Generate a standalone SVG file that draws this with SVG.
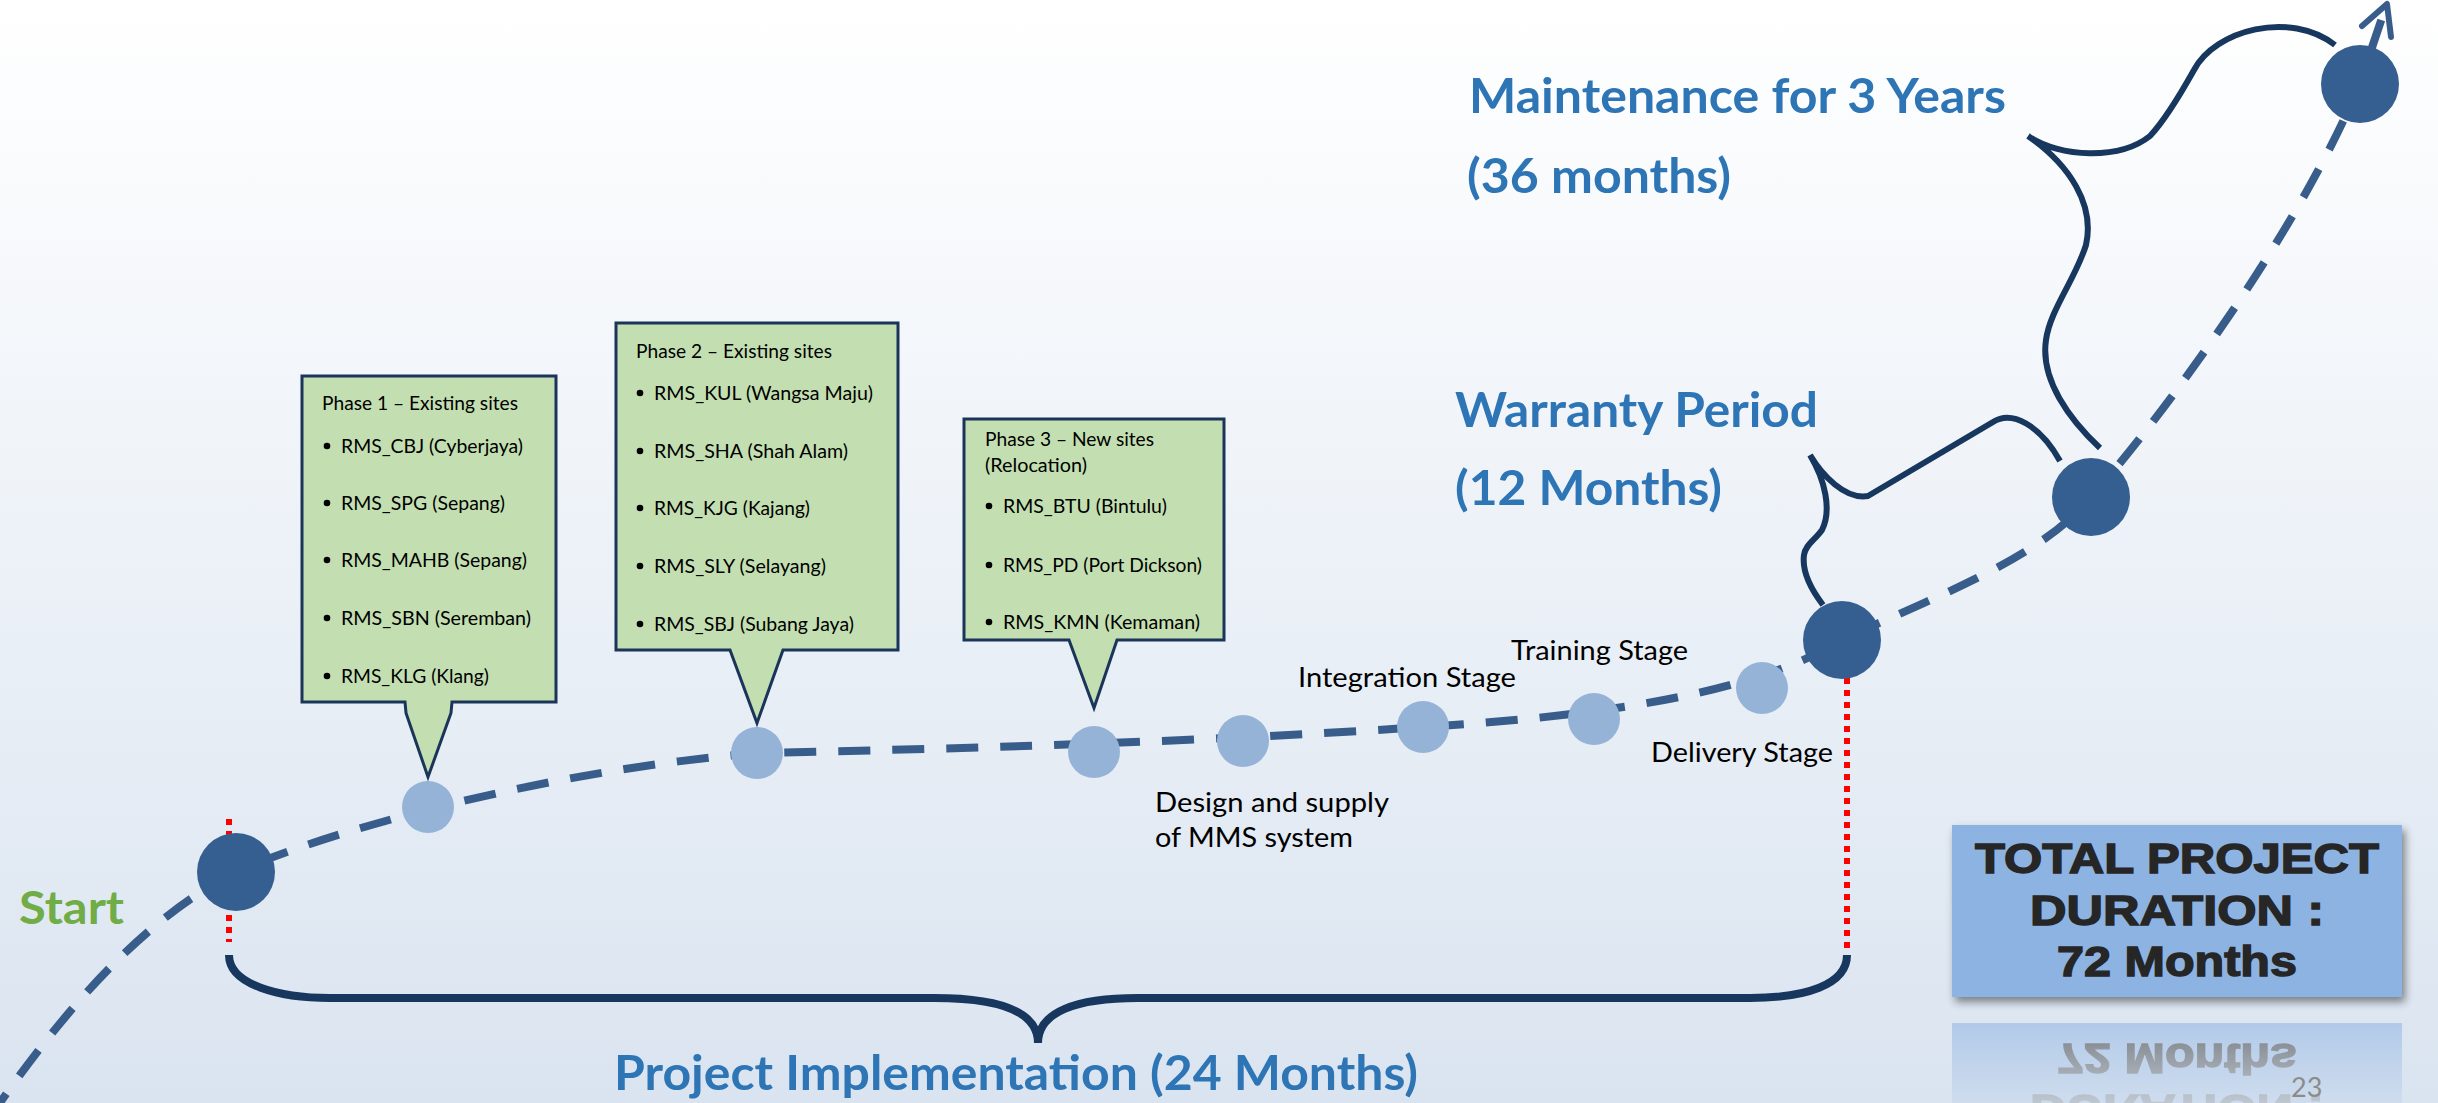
<svg xmlns="http://www.w3.org/2000/svg" width="2438" height="1103" viewBox="0 0 2438 1103">
<defs>
<linearGradient id="bg" x1="0" y1="0" x2="0" y2="1">
<stop offset="0" stop-color="#ffffff"/>
<stop offset="1" stop-color="#dae4f0"/>
</linearGradient>
<linearGradient id="fade" gradientUnits="userSpaceOnUse" x1="0" y1="1012" x2="0" y2="1103">
<stop offset="0" stop-color="#fff" stop-opacity="0.6"/>
<stop offset="1" stop-color="#fff" stop-opacity="0.15"/>
</linearGradient>
<mask id="reflMask" maskUnits="userSpaceOnUse" x="0" y="0" width="2438" height="1103">
<rect x="0" y="1012" width="2438" height="91" fill="url(#fade)"/>
</mask>
<filter id="shadow" x="-10%" y="-10%" width="125%" height="140%">
<feDropShadow dx="3" dy="5" stdDeviation="4" flood-color="#000" flood-opacity="0.45"/>
</filter>
<style>
.lbl{font-family:Lato,"Open Sans","Liberation Sans",sans-serif;fill:#000;font-size:27px}
.ph{font-family:Lato,"Open Sans","Liberation Sans",sans-serif;fill:#000;font-size:19.5px}
.ttl{font-family:Lato,"Open Sans","Liberation Sans",sans-serif;font-weight:700;fill:#2e75b6;font-size:47px}
.start{fill:#70ad47;font-size:45px}
.tot{font-family:"Liberation Sans",Arial,sans-serif;font-weight:700;fill:#262626;stroke:#262626;stroke-width:1.4;font-size:43px}
.big{fill:#365f91}
.small{fill:#95b3d7}
.callout{fill:#c3dfb1;stroke:#1b355a;stroke-width:3;stroke-linejoin:miter}
.dash{fill:none;stroke:#385d8a;stroke-width:8;stroke-dasharray:32 22}
.red{fill:none;stroke:#ff0000;stroke-width:6;stroke-dasharray:6 6}
.brace{fill:none;stroke:#17375e;stroke-linecap:butt}
.bul{fill:#000}
</style>
</defs>
<rect x="0" y="0" width="2438" height="1103" fill="url(#bg)"/>

<g id="connectors">
<path class="dash" d="M -12 1120 C 70 1000, 150 915, 236 872 C 330 830, 550 770, 757 753 C 950 749, 1200 742, 1423 727 C 1620 715, 1760 690, 1842 640 C 1930 598, 2040 560, 2091 497 C 2160 420, 2300 230, 2360 83 L 2386 6"/>
<path d="M 2362 26 L 2387 4 L 2391 37" fill="none" stroke="#385d8a" stroke-width="6" stroke-linecap="round" stroke-linejoin="round"/>
<line class="red" x1="229" y1="819" x2="229" y2="942"/>
<line class="red" x1="1847" y1="678" x2="1847" y2="952"/>
<path class="brace" stroke-width="8" d="M 229 955 C 229 985, 280 998, 330 998 L 934 998 C 1000 998, 1038 1012, 1038 1043 C 1038 1012, 1076 998, 1138 998 L 1750 998 C 1805 998, 1847 985, 1847 955"/>
<path class="brace" stroke-width="6" d="M 1823 605 C 1810 588, 1802 570, 1804 555 C 1805 545, 1815 540, 1822 530 C 1832 510, 1825 480, 1810 455 C 1822 475, 1845 500, 1868 496 L 1993 422 C 2012 410, 2040 425, 2060 461"/>
<path class="brace" stroke-width="6" d="M 2100 448 C 2070 420, 2040 380, 2046 340 C 2050 310, 2075 280, 2086 245 C 2095 205, 2070 165, 2028 136 C 2060 158, 2120 160, 2150 136 C 2165 120, 2180 95, 2194 70 C 2215 30, 2290 10, 2335 45"/>
</g>

<g id="node-start"><circle class="big" cx="236" cy="872" r="39"/></g>
<g id="node-phase1-point"><circle class="small" cx="428" cy="807" r="26"/></g>
<g id="node-phase2-point"><circle class="small" cx="757" cy="753" r="26"/></g>
<g id="node-phase3-point"><circle class="small" cx="1094" cy="752" r="26"/></g>
<g id="node-design"><circle class="small" cx="1243" cy="741" r="26"/></g>
<g id="node-integration"><circle class="small" cx="1423" cy="727" r="26"/></g>
<g id="node-training"><circle class="small" cx="1594" cy="719" r="26"/></g>
<g id="node-delivery"><circle class="small" cx="1762" cy="688" r="26"/></g>
<g id="node-warranty"><circle class="big" cx="1842" cy="640" r="39"/></g>
<g id="node-maintenance"><circle class="big" cx="2091" cy="497" r="39"/></g>
<g id="node-end"><circle class="big" cx="2360" cy="84" r="39"/></g>

<g id="callout-phase1">
<path class="callout" d="M 302 376 H 556 V 702 H 452 L 451 713 L 428 777 L 406 713 L 405 702 H 302 Z"/>
<text class="ph" x="322" y="410" textLength="196" lengthAdjust="spacingAndGlyphs">Phase 1 – Existing sites</text>
<circle class="bul" cx="327" cy="446" r="3.3"/><text class="ph" x="341" y="453" textLength="182" lengthAdjust="spacingAndGlyphs">RMS_CBJ (Cyberjaya)</text>
<circle class="bul" cx="327" cy="503" r="3.3"/><text class="ph" x="341" y="510" textLength="164" lengthAdjust="spacingAndGlyphs">RMS_SPG (Sepang)</text>
<circle class="bul" cx="327" cy="560" r="3.3"/><text class="ph" x="341" y="567" textLength="186" lengthAdjust="spacingAndGlyphs">RMS_MAHB (Sepang)</text>
<circle class="bul" cx="327" cy="618" r="3.3"/><text class="ph" x="341" y="625" textLength="190" lengthAdjust="spacingAndGlyphs">RMS_SBN (Seremban)</text>
<circle class="bul" cx="327" cy="676" r="3.3"/><text class="ph" x="341" y="683" textLength="148" lengthAdjust="spacingAndGlyphs">RMS_KLG (Klang)</text>
</g>

<g id="callout-phase2">
<path class="callout" d="M 616 323 H 898 V 650 H 783 L 757 723 L 730 650 H 616 Z"/>
<text class="ph" x="636" y="358" textLength="196" lengthAdjust="spacingAndGlyphs">Phase 2 – Existing sites</text>
<circle class="bul" cx="640" cy="393" r="3.3"/><text class="ph" x="654" y="400" textLength="219" lengthAdjust="spacingAndGlyphs">RMS_KUL (Wangsa Maju)</text>
<circle class="bul" cx="640" cy="451" r="3.3"/><text class="ph" x="654" y="458" textLength="194" lengthAdjust="spacingAndGlyphs">RMS_SHA (Shah Alam)</text>
<circle class="bul" cx="640" cy="508" r="3.3"/><text class="ph" x="654" y="515" textLength="156" lengthAdjust="spacingAndGlyphs">RMS_KJG (Kajang)</text>
<circle class="bul" cx="640" cy="566" r="3.3"/><text class="ph" x="654" y="573" textLength="172" lengthAdjust="spacingAndGlyphs">RMS_SLY (Selayang)</text>
<circle class="bul" cx="640" cy="624" r="3.3"/><text class="ph" x="654" y="631" textLength="200" lengthAdjust="spacingAndGlyphs">RMS_SBJ (Subang Jaya)</text>
</g>

<g id="callout-phase3">
<path class="callout" d="M 964 419 H 1224 V 640 H 1117 L 1094 708 L 1069 640 H 964 Z"/>
<text class="ph" x="985" y="446" textLength="169" lengthAdjust="spacingAndGlyphs">Phase 3 – New sites</text>
<text class="ph" x="985" y="472" textLength="102" lengthAdjust="spacingAndGlyphs">(Relocation)</text>
<circle class="bul" cx="989" cy="506" r="3.3"/><text class="ph" x="1003" y="513" textLength="164" lengthAdjust="spacingAndGlyphs">RMS_BTU (Bintulu)</text>
<circle class="bul" cx="989" cy="565" r="3.3"/><text class="ph" x="1003" y="572" textLength="199" lengthAdjust="spacingAndGlyphs">RMS_PD (Port Dickson)</text>
<circle class="bul" cx="989" cy="622" r="3.3"/><text class="ph" x="1003" y="629" textLength="197" lengthAdjust="spacingAndGlyphs">RMS_KMN (Kemaman)</text>
</g>

<g id="labels">
<text class="lbl" x="1155" y="812" textLength="234" lengthAdjust="spacingAndGlyphs">Design and supply</text>
<text class="lbl" x="1155" y="847" textLength="198" lengthAdjust="spacingAndGlyphs">of MMS system</text>
<text class="lbl" x="1298" y="687" textLength="218" lengthAdjust="spacingAndGlyphs">Integration Stage</text>
<text class="lbl" x="1511" y="660" textLength="177" lengthAdjust="spacingAndGlyphs">Training Stage</text>
<text class="lbl" x="1651" y="762" textLength="182" lengthAdjust="spacingAndGlyphs">Delivery Stage</text>
<text class="ttl" x="1469" y="113" textLength="537" lengthAdjust="spacingAndGlyphs">Maintenance for 3 Years</text>
<text class="ttl" x="1467" y="193" textLength="264" lengthAdjust="spacingAndGlyphs">(36 months)</text>
<text class="ttl" x="1455" y="427" textLength="363" lengthAdjust="spacingAndGlyphs">Warranty Period</text>
<text class="ttl" x="1455" y="505" textLength="267" lengthAdjust="spacingAndGlyphs">(12 Months)</text>
<text class="ttl start" x="19" y="924" textLength="105" lengthAdjust="spacingAndGlyphs">Start</text>
<text class="ttl" x="614" y="1090" textLength="804" lengthAdjust="spacingAndGlyphs">Project Implementation (24 Months)</text>
</g>

<g id="total-reflection" mask="url(#reflMask)">
<g transform="translate(0,2020) scale(1,-1)">
<rect x="1952" y="825" width="450" height="172" fill="#8db3e2"/>
<text class="tot" x="2177" y="873" text-anchor="middle" textLength="404" lengthAdjust="spacingAndGlyphs">TOTAL PROJECT</text>
<text class="tot" x="2177" y="925" text-anchor="middle" textLength="294" lengthAdjust="spacingAndGlyphs">DURATION :</text>
<text class="tot" x="2177" y="976" text-anchor="middle" textLength="240" lengthAdjust="spacingAndGlyphs">72 Months</text>
</g>
</g>

<g id="total-duration">
<rect x="1952" y="825" width="450" height="172" fill="#8db3e2" filter="url(#shadow)"/>
<text class="tot" x="2177" y="873" text-anchor="middle" textLength="404" lengthAdjust="spacingAndGlyphs">TOTAL PROJECT</text>
<text class="tot" x="2177" y="925" text-anchor="middle" textLength="294" lengthAdjust="spacingAndGlyphs">DURATION :</text>
<text class="tot" x="2177" y="976" text-anchor="middle" textLength="240" lengthAdjust="spacingAndGlyphs">72 Months</text>
</g>

<text x="2291" y="1097" font-family="Lato,'Open Sans',sans-serif" font-size="27" fill="#8b8b8b">23</text>
</svg>
